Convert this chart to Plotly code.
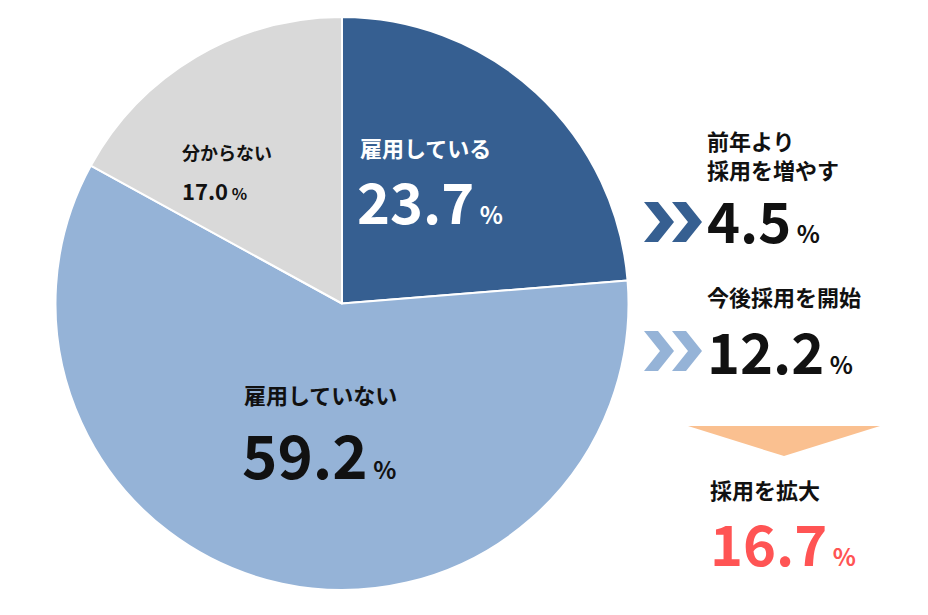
import plotly.graph_objects as go

labels = ["雇用している", "雇用していない", "分からない"]
values = [23.7, 59.2, 17.0]
colors = ["#365f91", "#95b3d7", "#d9d9d9"]
sub_labels = ["前年より<br>採用を増やす", "今後採用を開始", "採用を拡大"]
sub_values = [4.5, 12.2, 16.7]

W, H = 928, 615
FONT = "Noto Sans CJK JP"

fig = go.Figure(go.Pie(
    labels=labels, values=values, sort=False, direction="clockwise", rotation=0,
    marker=dict(colors=colors, line=dict(color="white", width=2)),
    textinfo="none", hoverinfo="label+percent", showlegend=False,
    domain=dict(x=[46/W, 622/W], y=[33/H, 606/H]),
))

def P(x, y):
    return x / W, 1 - y / H

def ann(x, y, text, size, color="#111", yanchor="middle"):
    px, py = P(x - 8, y - 4)
    fig.add_annotation(x=px, y=py, xref="paper", yref="paper", text=text, showarrow=False,
                       xanchor="left", yanchor=yanchor, align="left",
                       font=dict(family=FONT, size=size, color=color, weight="bold"))

def num(v, big, small):
    return f"<span style='font-size:{big}px'>{v:.1f}</span><span style='font-size:{small}px'> %</span>"

ann(358, 143, labels[0], 22, "white")
ann(355, 195, num(values[0], 56, 24), 56, "white")
ann(180, 148, labels[2], 18)
ann(180, 186, num(values[2], 22, 16), 22)
ann(242, 390, labels[1], 22)
ann(240, 448, num(values[1], 60, 24), 60)

ann(705, 150, sub_labels[0], 22)
ann(705, 215, num(sub_values[0], 56, 24), 56)
ann(705, 292, sub_labels[1], 22)
ann(705, 345, num(sub_values[1], 56, 24), 56)
ann(708, 485, sub_labels[2], 22)
ann(708, 537, num(sub_values[2], 56, 24), 56, "#ff5454")

def chevron(x0, yc, color):
    for dx in (0, 28):
        pts = [(x0+dx, yc-20), (x0+dx+14, yc-20), (x0+dx+30, yc), (x0+dx+14, yc+20), (x0+dx, yc+20), (x0+dx+16, yc)]
        path = "M " + " L ".join(f"{p[0]/W},{1-p[1]/H}" for p in pts) + " Z"
        fig.add_shape(type="path", path=path, xref="paper", yref="paper", fillcolor=color, line=dict(width=0))

chevron(636, 214, "#365f91")
chevron(636, 343, "#95b3d7")
tri = [(680, 418), (872, 418), (776, 448)]
fig.add_shape(type="path", path="M " + " L ".join(f"{x/W},{1-y/H}" for x, y in tri) + " Z",
              xref="paper", yref="paper", fillcolor="#fac090", line=dict(width=0))

fig.update_layout(width=W, height=H, margin=dict(l=0, r=0, t=0, b=0),
                  paper_bgcolor="white", plot_bgcolor="white")
fig.write_html("out.html")
